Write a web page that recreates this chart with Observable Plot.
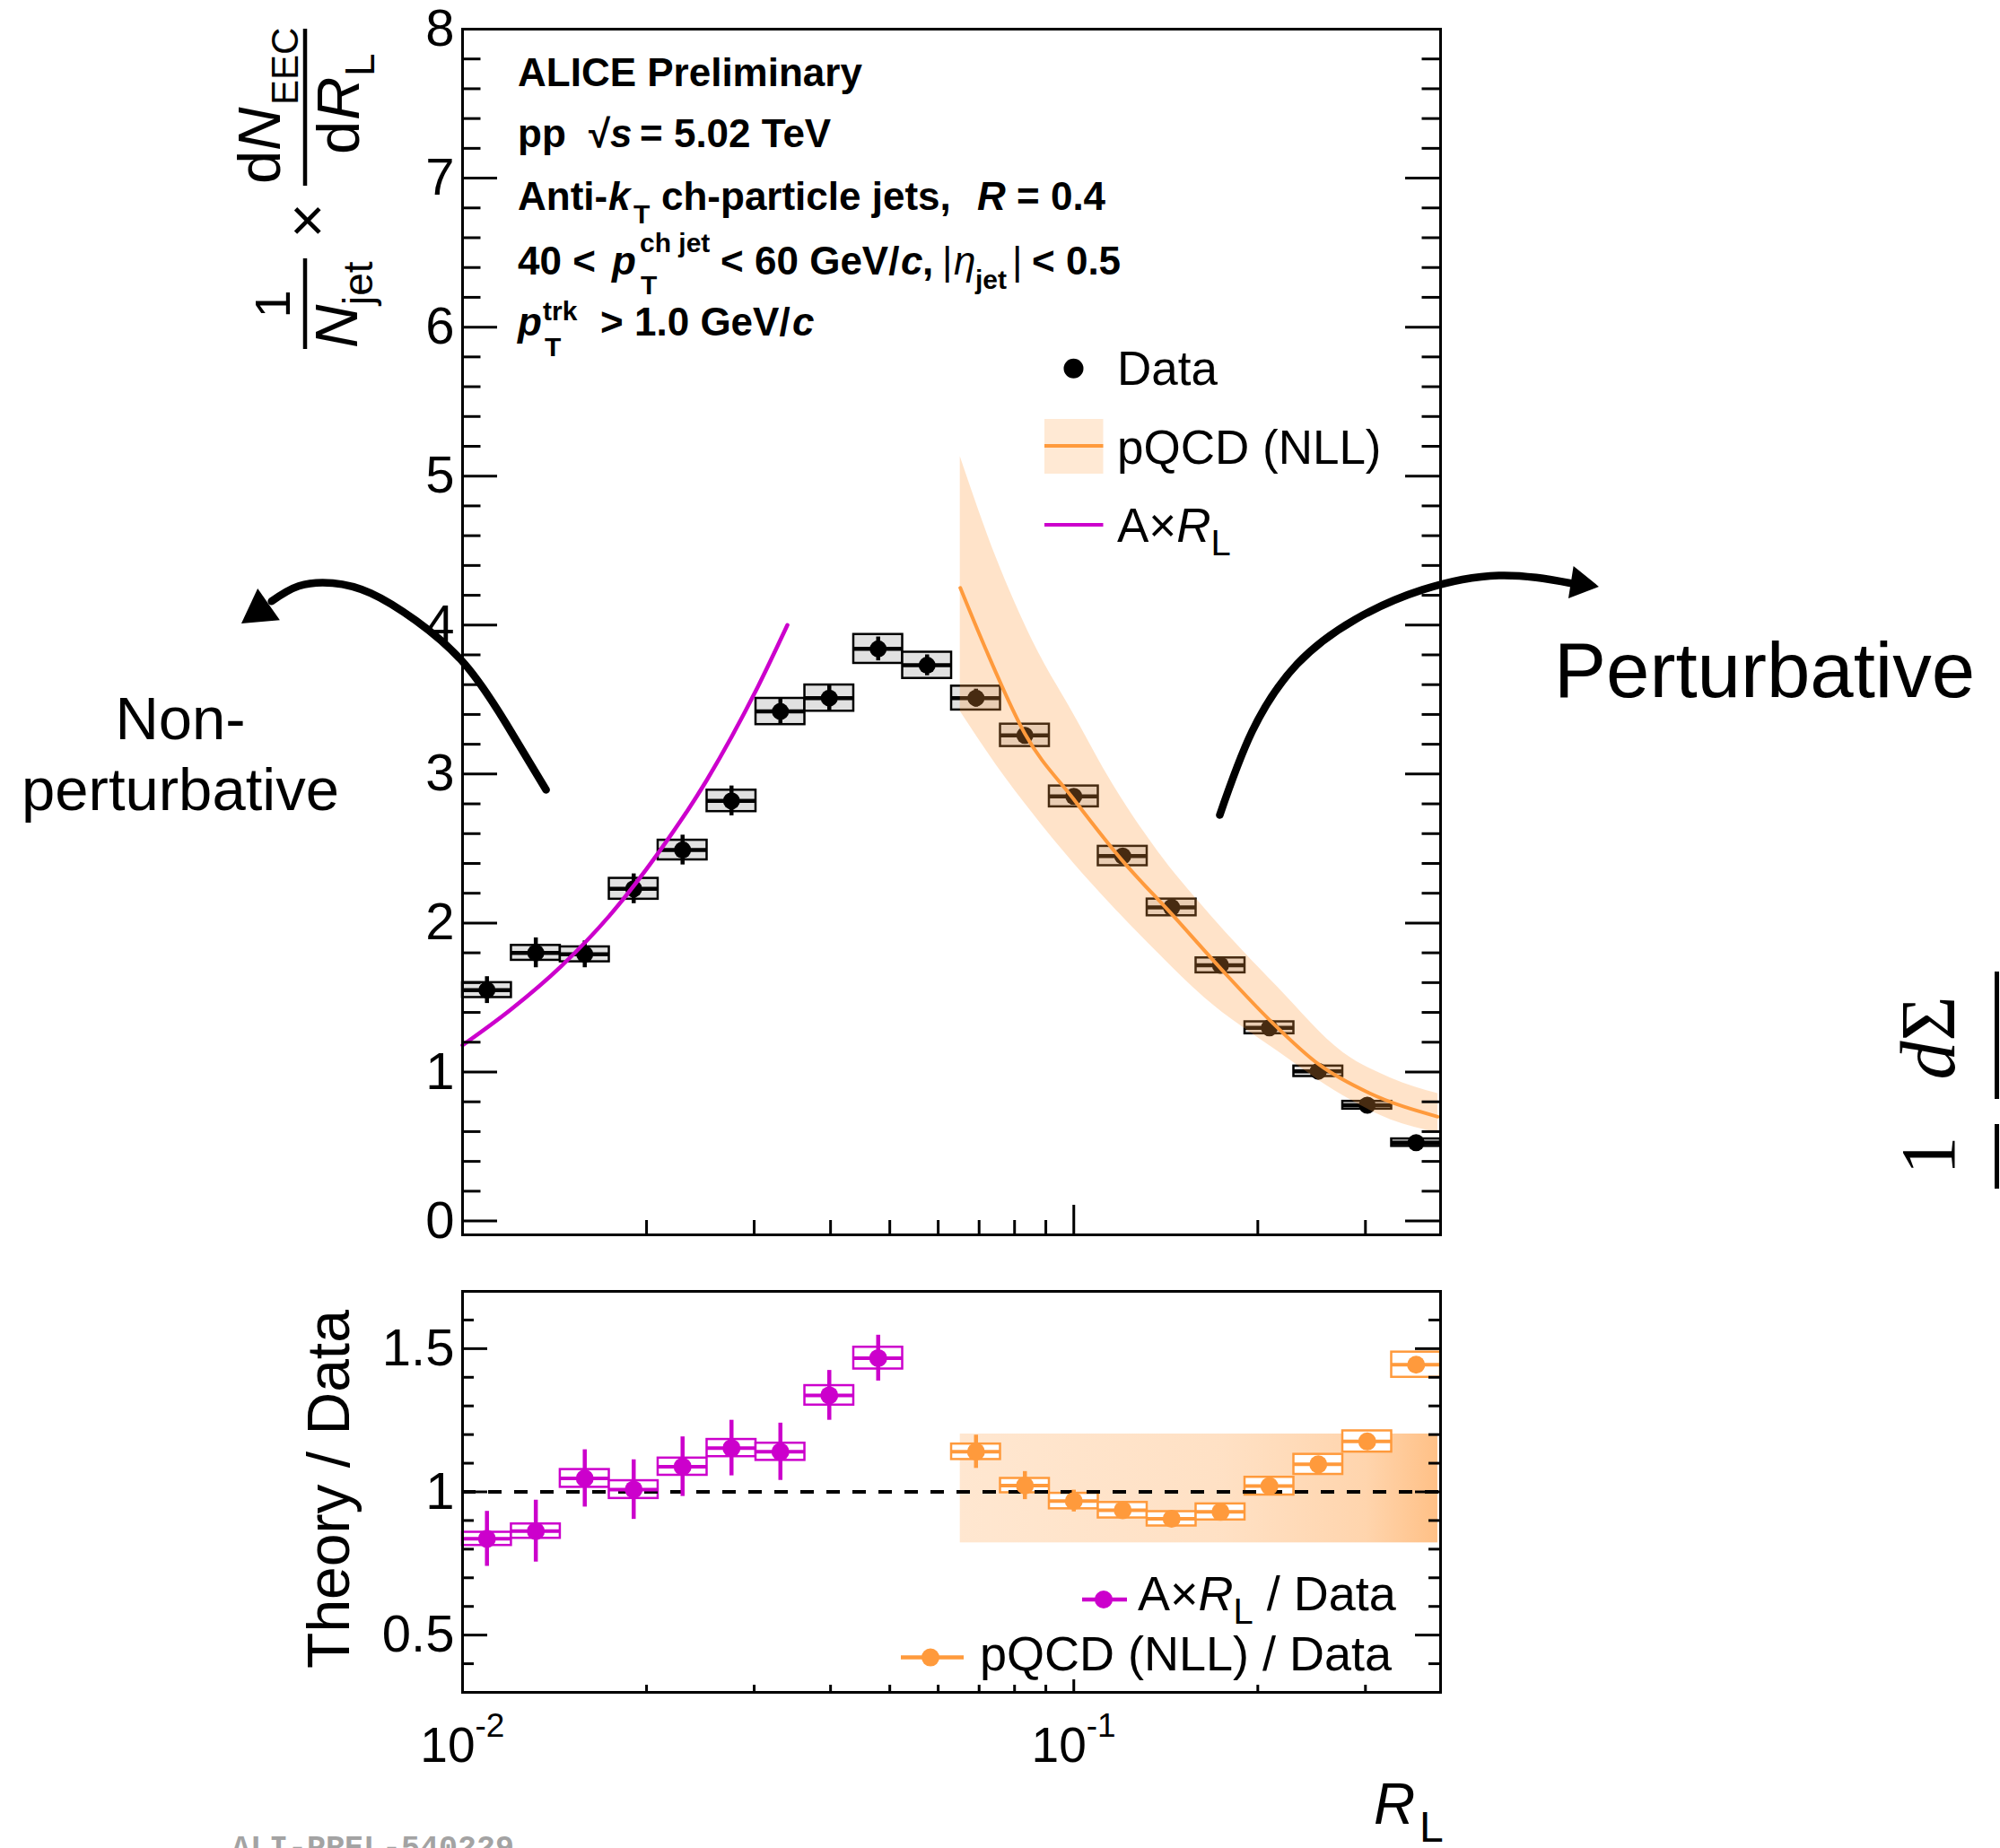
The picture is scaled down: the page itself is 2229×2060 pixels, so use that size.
<!DOCTYPE html>
<html>
<head>
<meta charset="utf-8">
<script src="https://cdn.jsdelivr.net/npm/d3@7"></script>
<script src="https://cdn.jsdelivr.net/npm/@observablehq/plot@0.6"></script>
<style>
html, body { margin: 0; padding: 0; background: #fff; }
#chart { width: 2229px; height: 2060px; overflow: hidden; position: relative; background: #fff; }
#chart svg { display: block; }
</style>
</head>
<body>
<div id="chart"></div>
<script>
// ---------------- data ----------------
const binEdges = [0.01, 0.01202, 0.01445, 0.01738, 0.02089, 0.02512, 0.0302, 0.03631, 0.04365, 0.05248,
  0.0631, 0.07586, 0.0912, 0.10965, 0.13183, 0.15849, 0.19055, 0.22909, 0.27542, 0.33113, 0.39811];

const eecValue = [1.55, 1.80, 1.79, 2.23, 2.49, 2.82, 3.42, 3.51, 3.84, 3.73,
  3.51, 3.26, 2.85, 2.45, 2.105, 1.716, 1.297, 1.005, 0.777, 0.526];
const eecStat = [0.09, 0.10, 0.09, 0.10, 0.10, 0.10, 0.09, 0.09, 0.08, 0.07,
  0.06, 0.05, 0.04, 0.03, 0.03, 0.02, 0.02, 0.015, 0.01, 0.01];
const eecSys = [0.05, 0.05, 0.05, 0.07, 0.066, 0.072, 0.088, 0.088, 0.097, 0.088,
  0.08, 0.075, 0.07, 0.065, 0.056, 0.05, 0.04, 0.035, 0.026, 0.025];

// A x R_L curve
const axrX = [0.0100, 0.0120, 0.0145, 0.0174, 0.0209, 0.0251, 0.0302, 0.0340];
const axrY = [1.18, 1.42, 1.71, 2.05, 2.47, 2.96, 3.56, 4.00];

// pQCD (NLL) central curve and uncertainty band
const pqcdX = [0.0652, 0.0714, 0.0832, 0.1000, 0.1200, 0.1446, 0.1743, 0.2090, 0.2519, 0.3039, 0.3940];
const pqcdY = [4.25, 3.86, 3.27, 2.83, 2.42, 2.06, 1.69, 1.35, 1.05, 0.86, 0.70];
const bandX  = [0.0652, 0.0747, 0.0855, 0.1000, 0.1159, 0.1373, 0.1635, 0.2155, 0.2760, 0.3300, 0.3940];
const bandHi = [5.13, 4.45, 3.90, 3.40, 2.93, 2.48, 2.10, 1.57, 1.13, 0.96, 0.855];
const bandLo = [3.42, 3.06, 2.74, 2.40, 2.11, 1.80, 1.50, 1.14, 0.84, 0.68, 0.594];

// ratio panel: A x R_L / Data (bins 0..8), pQCD / Data (bins 10..19)
const ratioA = [0.836, 0.863, 1.047, 1.008, 1.088, 1.153, 1.140, 1.337, 1.467];
const ratioAStat = [0.096, 0.108, 0.10, 0.104, 0.104, 0.097, 0.10, 0.087, 0.08];
const ratioASys = [0.023, 0.025, 0.031, 0.031, 0.03, 0.03, 0.03, 0.034, 0.038];
const ratioAFirstBin = 0;
const ratioP = [1.14, 1.022, 0.968, 0.936, 0.906, 0.93, 1.02, 1.096, 1.176, 1.444];
const ratioPStat = [0.058, 0.049, 0.038, 0.025, 0.02, 0.02, 0.02, 0.02, 0.02, 0.02];
const ratioPSys = [0.027, 0.025, 0.027, 0.027, 0.025, 0.028, 0.031, 0.035, 0.037, 0.044];
const ratioPFirstBin = 10;
const ratioBandX = [0.0652, 0.3940];
const ratioBandY = [0.822, 1.202];

// axis ticks / labels
const yMajorTop = [0, 1, 2, 3, 4, 5, 6, 7, 8];
const yMajorRatio = [0.5, 1, 1.5];
const yMajorRatioLabels = ["0.5", "1", "1.5"];
const xMajor = [0.01, 0.1];
const xMajorExp = ["-2", "-1"];
const xMinor = [0.02, 0.03, 0.04, 0.05, 0.06, 0.07, 0.08, 0.09, 0.2, 0.3];

// annotation arrows (in data coordinates of the upper panel)
const leftArrowX = [0.01370, 0.01180, 0.01009, 0.008388, 0.007071, 0.006133, 0.005396, 0.004870];
const leftArrowY = [2.894, 3.335, 3.737, 4.030, 4.215, 4.282, 4.262, 4.160];
const rightArrowX = [0.1733, 0.1957, 0.2318, 0.2888, 0.3721, 0.4959, 0.6543];
const rightArrowY = [2.725, 3.285, 3.737, 4.038, 4.237, 4.333, 4.279];

// ---------------- helpers ----------------
const NS = "http://www.w3.org/2000/svg";
const FONT = "'Liberation Sans', Arial, Helvetica, sans-serif";
const ORANGE = "#ff9a3c";
const MAGENTA = "#cc00cc";

function el(tag, attrs = {}, parent) {
  const e = document.createElementNS(NS, tag);
  for (const [k, v] of Object.entries(attrs)) e.setAttribute(k, v);
  if (parent) parent.appendChild(e);
  return e;
}
function txt(parent, x, y, str, o = {}) {
  const t = el("text", {x, y, "font-size": o.size ?? 44, fill: o.fill ?? "black",
    "text-anchor": o.anchor ?? "start"}, parent);
  if (o.weight) t.setAttribute("font-weight", o.weight);
  if (o.italic) t.setAttribute("font-style", "italic");
  if (o.family) t.setAttribute("font-family", o.family);
  t.textContent = str;
  return t;
}
function rich(parent, x, y, parts, base = {}) {
  const t = el("text", {x, y, "font-size": base.size ?? 44, fill: "black",
    "text-anchor": base.anchor ?? "start"}, parent);
  if (base.weight) t.setAttribute("font-weight", base.weight);
  if (base.family) t.setAttribute("font-family", base.family);
  for (const p of parts) {
    const s = el("tspan", {}, t);
    if (p.italic) s.setAttribute("font-style", "italic");
    if (p.size) s.setAttribute("font-size", p.size);
    if (p.dy) s.setAttribute("dy", p.dy);
    s.textContent = p.t;
  }
  return t;
}

// ---------------- tables ----------------
const bins = eecValue.map((v, i) => ({
  lo: binEdges[i], hi: binEdges[i + 1], c: Math.sqrt(binEdges[i] * binEdges[i + 1]),
  v, stat: eecStat[i], sys: eecSys[i]
}));
const mkRatio = (vals, stat, sys, first) => vals.map((v, i) => ({
  lo: binEdges[first + i], hi: binEdges[first + i + 1],
  c: Math.sqrt(binEdges[first + i] * binEdges[first + i + 1]),
  v, stat: stat[i], sys: sys[i]
}));
const ratioABins = mkRatio(ratioA, ratioAStat, ratioASys, ratioAFirstBin);
const ratioPBins = mkRatio(ratioP, ratioPStat, ratioPSys, ratioPFirstBin);
const axr = axrX.map((x, i) => ({x, y: axrY[i]}));
const pqcd = pqcdX.map((x, i) => ({x, y: pqcdY[i]}));
const band = bandX.map((x, i) => ({x, lo: bandLo[i], hi: bandHi[i]}));
const leftArrow = leftArrowX.map((x, i) => ({x, y: leftArrowY[i]}));
const rightArrow = rightArrowX.map((x, i) => ({x, y: rightArrowY[i]}));
const yMinorTop = d3.range(0.2, 8, 0.2).filter(v => Math.abs(v - Math.round(v)) > 1e-6);
const yMinorRatio = d3.range(0.4, 1.7, 0.1).filter(v => !yMajorRatio.some(m => Math.abs(m - v) < 1e-6));

// ---------------- layout ----------------
const W = 2229, mL = 515, mR = 624;
const plotW = W - mL - mR;
const topH = 1410, topMT = 32, topMB = 34;
const topPH = topH - topMT - topMB;
const ratH = 650, ratMT = 29, ratMB = 174;
const ratPH = ratH - ratMT - ratMB;

function yTicks(values, len, sw) {
  return [
    Plot.ruleY(values, {y: d => d, insetRight: plotW - len, stroke: "black", strokeWidth: sw}),
    Plot.ruleY(values, {y: d => d, insetLeft: plotW - len, stroke: "black", strokeWidth: sw})
  ];
}
function xTicks(values, len, ph, sw) {
  return Plot.ruleX(values, {x: d => d, insetTop: ph - len, stroke: "black", strokeWidth: sw});
}

// ---------------- upper panel ----------------
const topPlot = Plot.plot({
  width: W, height: topH,
  marginLeft: mL, marginRight: mR, marginTop: topMT, marginBottom: topMB,
  style: {fontFamily: FONT, background: "white", color: "black"},
  x: {type: "log", domain: [0.01, 0.39811], axis: null},
  y: {domain: [-0.093, 8], axis: null},
  marks: [
    // data with systematic boxes
    Plot.rect(bins, {x1: "lo", x2: "hi", y1: d => d.v - d.sys, y2: d => d.v + d.sys,
      fill: "#e1e1e1", stroke: "black", strokeWidth: 2.5}),
    Plot.ruleY(bins, {x1: "lo", x2: "hi", y: "v", stroke: "black", strokeWidth: 4.5}),
    Plot.ruleX(bins, {x: "c", y1: d => d.v - d.stat, y2: d => d.v + d.stat, stroke: "black", strokeWidth: 4.5}),
    Plot.dot(bins, {x: "c", y: "v", r: 9.5, fill: "black", stroke: null}),
    // pQCD band + curves
    Plot.areaY(band, {x: "x", y1: "lo", y2: "hi", fill: ORANGE, fillOpacity: 0.28, curve: "monotone-x"}),
    Plot.line(pqcd, {x: "x", y: "y", stroke: ORANGE, strokeWidth: 4, curve: "monotone-x"}),
    Plot.line(axr, {x: "x", y: "y", stroke: MAGENTA, strokeWidth: 4.5, curve: "monotone-x"}),
    // ticks and frame
    ...yTicks(yMajorTop, 39, 3),
    ...yTicks(yMinorTop, 20.5, 3),
    xTicks(xMajor, 33, topPH, 3),
    xTicks(xMinor, 16, topPH, 3),
    Plot.frame({stroke: "black", strokeWidth: 3}),
    Plot.text(yMajorTop, {y: d => d, text: d => String(d), frameAnchor: "left", dx: -9,
      textAnchor: "end", fontSize: 58, fill: "black"}),
    // annotation arrows
    Plot.line(leftArrow, {x: "x", y: "y", stroke: "black", strokeWidth: 8.5, curve: "natural"}),
    Plot.line(rightArrow, {x: "x", y: "y", stroke: "black", strokeWidth: 8.5, curve: "natural"}),
    Plot.dot([{x: 0.004656, y: 4.096}], {x: "x", y: "y", symbol: "triangle", r: 16, rotate: 235, fill: "black", stroke: null}),
    Plot.dot([{x: 0.6738, y: 4.278}], {x: "x", y: "y", symbol: "triangle", r: 13.5, rotate: 99, fill: "black", stroke: null}),
    // texts drawn in pixel space
    () => {
      const g = el("g", {"font-family": FONT, "text-anchor": "start"});
      // y-axis title
      const t = el("g", {transform: "translate(340,390) rotate(-90)"}, g);
      el("line", {x1: 1, x2: 102, y1: 0, y2: 0, stroke: "black", "stroke-width": 4.5}, t);
      txt(t, 51, -17, "1", {size: 56, anchor: "middle"});
      txt(t, 2, 58, "N", {size: 67, italic: true});
      txt(t, 50, 75, "jet", {size: 46});
      txt(t, 144, 25, "×", {size: 67, anchor: "middle"});
      el("line", {x1: 183, x2: 358, y1: 0, y2: 0, stroke: "black", "stroke-width": 4.5}, t);
      txt(t, 185, -28, "d", {size: 67});
      txt(t, 222, -28, "N", {size: 67, italic: true});
      txt(t, 273, -8, "EEC", {size: 42});
      txt(t, 218, 60, "d", {size: 67});
      txt(t, 256, 60, "R", {size: 67, italic: true});
      txt(t, 305, 77, "L", {size: 46});

      // ALICE text block
      const b = el("g", {"font-weight": "bold"}, g);
      txt(b, 577, 96, "ALICE Preliminary", {size: 44});
      txt(b, 577, 164, "pp", {size: 44});
      txt(b, 656, 164, "√", {size: 44});
      txt(b, 680, 164, "s", {size: 44, italic: true});
      txt(b, 713, 164, "= 5.02 TeV", {size: 44});
      txt(b, 577, 234, "Anti-", {size: 44});
      txt(b, 678, 234, "k", {size: 44, italic: true});
      txt(b, 706, 249, "T", {size: 30});
      txt(b, 737, 234, "ch-particle jets,", {size: 44});
      txt(b, 1089, 234, "R", {size: 44, italic: true});
      txt(b, 1133, 234, "= 0.4", {size: 44});
      txt(b, 577, 306, "40 <", {size: 44});
      txt(b, 682, 306, "p", {size: 44, italic: true});
      txt(b, 713, 281, "ch jet", {size: 30});
      txt(b, 714, 328, "T", {size: 30});
      txt(b, 803, 306, "<", {size: 44});
      txt(b, 841, 306, "60 GeV/", {size: 44});
      txt(b, 1004, 306, "c", {size: 44, italic: true});
      txt(b, 1028, 306, ",", {size: 44});
      txt(b, 1050, 306, "|", {size: 44, weight: "normal"});
      txt(b, 1063, 306, "η", {size: 44, italic: true, weight: "normal"});
      txt(b, 1087, 322, "jet", {size: 30});
      txt(b, 1128, 306, "|", {size: 44, weight: "normal"});
      txt(b, 1150, 306, "< 0.5", {size: 44});
      txt(b, 577, 374, "p", {size: 44, italic: true});
      txt(b, 605, 357, "trk", {size: 30});
      txt(b, 607, 397, "T", {size: 30});
      txt(b, 669, 374, ">", {size: 44});
      txt(b, 707, 374, "1.0 GeV/", {size: 44});
      txt(b, 883, 374, "c", {size: 44, italic: true});

      // legend
      el("circle", {cx: 1196.5, cy: 410.7, r: 11, fill: "black"}, g);
      txt(g, 1245, 428.6, "Data", {size: 53});
      el("rect", {x: 1164, y: 467, width: 65.5, height: 61, fill: ORANGE, "fill-opacity": 0.22}, g);
      el("line", {x1: 1164, x2: 1229.5, y1: 497, y2: 497, stroke: ORANGE, "stroke-width": 4}, g);
      txt(g, 1245, 517, "pQCD (NLL)", {size: 53});
      el("line", {x1: 1164, x2: 1229.5, y1: 585, y2: 585, stroke: MAGENTA, "stroke-width": 4}, g);
      rich(g, 1245, 603.6, [{t: "A×"}, {t: "R", italic: true}, {t: "L", size: 40, dy: 15}], {size: 53});

      // annotations
      txt(g, 201, 824, "Non-", {size: 67, anchor: "middle"});
      txt(g, 201, 903, "perturbative", {size: 67, anchor: "middle"});
      txt(g, 1732, 777, "Perturbative", {size: 87});

      // cropped fragment of a neighbouring formula at the right edge
      const SERIF = "'Liberation Serif', 'DejaVu Serif', serif";
      const f1 = el("g", {transform: "translate(2178,1288) rotate(-90)"}, g);
      txt(f1, 0, 0, "1", {size: 86, anchor: "middle", family: SERIF});
      const f2 = el("g", {transform: "translate(2178,1157) rotate(-90)"}, g);
      rich(f2, 0, 0, [{t: "d", italic: true}, {t: "Σ"}], {size: 86, anchor: "middle", family: SERIF});
      el("line", {x1: 2225.5, x2: 2225.5, y1: 1083, y2: 1225, stroke: "black", "stroke-width": 5}, g);
      el("line", {x1: 2225.5, x2: 2225.5, y1: 1253, y2: 1325, stroke: "black", "stroke-width": 5}, g);
      return g;
    }
  ]
});

// ---------------- ratio panel ----------------
const ratioBand = [{x1: ratioBandX[0], x2: ratioBandX[1], y1: ratioBandY[0], y2: ratioBandY[1]}];

const ratioPlot = Plot.plot({
  width: W, height: ratH,
  marginLeft: mL, marginRight: mR, marginTop: ratMT, marginBottom: ratMB,
  style: {fontFamily: FONT, background: "white", color: "black"},
  x: {type: "log", domain: [0.01, 0.39811], axis: null},
  y: {domain: [0.3, 1.7], axis: null},
  marks: [
    () => {
      const defs = el("defs");
      const lg = el("linearGradient", {id: "ratioGrad", x1: "0", x2: "1", y1: "0", y2: "0"}, defs);
      el("stop", {offset: "0%", "stop-color": ORANGE, "stop-opacity": 0.24}, lg);
      el("stop", {offset: "55%", "stop-color": ORANGE, "stop-opacity": 0.30}, lg);
      el("stop", {offset: "85%", "stop-color": ORANGE, "stop-opacity": 0.42}, lg);
      el("stop", {offset: "100%", "stop-color": ORANGE, "stop-opacity": 0.62}, lg);
      return defs;
    },
    Plot.rect(ratioBand, {x1: "x1", x2: "x2", y1: "y1", y2: "y2", fill: "url(#ratioGrad)"}),
    // boxes
    Plot.rect(ratioABins, {x1: "lo", x2: "hi", y1: d => d.v - d.sys, y2: d => d.v + d.sys,
      fill: "white", stroke: MAGENTA, strokeWidth: 2.5}),
    Plot.rect(ratioPBins, {x1: "lo", x2: "hi", y1: d => d.v - d.sys, y2: d => d.v + d.sys,
      fill: "white", stroke: ORANGE, strokeWidth: 2.5}),
    Plot.ruleY([1], {stroke: "black", strokeWidth: 4, strokeDasharray: "15,14"}),
    Plot.ruleY(ratioABins, {x1: "lo", x2: "hi", y: "v", stroke: MAGENTA, strokeWidth: 4}),
    Plot.ruleY(ratioPBins, {x1: "lo", x2: "hi", y: "v", stroke: ORANGE, strokeWidth: 4}),
    Plot.ruleX(ratioABins, {x: "c", y1: d => d.v - d.stat, y2: d => d.v + d.stat, stroke: MAGENTA, strokeWidth: 4.5}),
    Plot.ruleX(ratioPBins, {x: "c", y1: d => d.v - d.stat, y2: d => d.v + d.stat, stroke: ORANGE, strokeWidth: 4.5}),
    Plot.dot(ratioABins, {x: "c", y: "v", r: 10, fill: MAGENTA, stroke: null}),
    Plot.dot(ratioPBins, {x: "c", y: "v", r: 10, fill: ORANGE, stroke: null}),
    // ticks and frame
    ...yTicks(yMajorRatio, 28, 3),
    ...yTicks(yMinorRatio, 13, 3),
    xTicks(xMajor, 14, ratPH, 3),
    xTicks(xMinor, 8, ratPH, 3),
    Plot.frame({stroke: "black", strokeWidth: 3}),
    Plot.text(yMajorRatio, {y: d => d, text: (d, i) => yMajorRatioLabels[i], frameAnchor: "left", dx: -9,
      textAnchor: "end", fontSize: 58, fill: "black"}),
    Plot.text(xMajor, {x: d => d, text: () => "10", frameAnchor: "bottom", lineAnchor: "bottom",
      dy: 77, dx: 14, textAnchor: "end", fontSize: 55, fill: "black"}),
    Plot.text(xMajor, {x: d => d, text: (d, i) => xMajorExp[i], frameAnchor: "bottom", lineAnchor: "bottom",
      dy: 49, dx: 14, textAnchor: "start", fontSize: 37, fill: "black"}),
    () => {
      const g = el("g", {"font-family": FONT, "text-anchor": "start"});
      // y title
      const t = el("g", {transform: "translate(389,250) rotate(-90)"}, g);
      txt(t, 0, 0, "Theory / Data", {size: 66, anchor: "middle"});
      // x title
      txt(g, 1531, 623, "R", {size: 64, italic: true});
      txt(g, 1582, 643, "L", {size: 48});
      // legend
      el("line", {x1: 1206, x2: 1256, y1: 373, y2: 373, stroke: MAGENTA, "stroke-width": 4.5}, g);
      el("circle", {cx: 1230, cy: 373, r: 10, fill: MAGENTA}, g);
      rich(g, 1268, 385, [{t: "A×"}, {t: "R", italic: true}, {t: "L", size: 40, dy: 15}, {t: " / Data", size: 54, dy: -15}], {size: 54});
      el("line", {x1: 1004, x2: 1074, y1: 437.6, y2: 437.6, stroke: ORANGE, "stroke-width": 4.5}, g);
      el("circle", {cx: 1037, cy: 437.6, r: 10, fill: ORANGE}, g);
      txt(g, 1092, 451.5, "pQCD (NLL) / Data", {size: 54});
      // figure id (cut at the bottom edge)
      txt(g, 258, 660, "ALI-PREL-540229", {size: 35, weight: "bold", fill: "#a3a3a3",
        family: "'Liberation Mono', 'DejaVu Sans Mono', monospace"});
      return g;
    }
  ]
});

const chart = document.getElementById("chart");
chart.appendChild(topPlot);
chart.appendChild(ratioPlot);
</script>
</body>
</html>
